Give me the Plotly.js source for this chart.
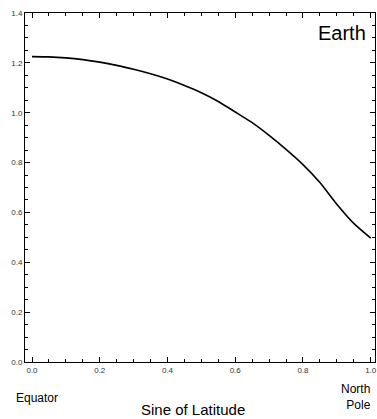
<!DOCTYPE html>
<html>
<head>
<meta charset="utf-8">
<script src="https://cdn.plot.ly/plotly-3.0.1.min.js"></script>
<style>
html,body{margin:0;padding:0;background:#fff;}
#chart{width:377px;height:419px;}
</style>
</head>
<body>
<div id="chart"></div>
<script>
// Sine of latitude (x) and plotted quantity (y)
const sineLatitude = [0, 0.05, 0.1, 0.15, 0.2, 0.25, 0.3, 0.35, 0.4, 0.45, 0.5, 0.55, 0.6, 0.65, 0.7, 0.75, 0.8, 0.85, 0.9, 0.95, 1.0];
const values = [1.225, 1.224, 1.220, 1.213, 1.203, 1.190, 1.174, 1.156, 1.135, 1.109, 1.080, 1.045, 1.003, 0.960, 0.909, 0.853, 0.792, 0.720, 0.633, 0.556, 0.497];
const xTickVals = [0, 0.2, 0.4, 0.6, 0.8, 1.0];
const xTickText = ["0.0", "0.2", "0.4", "0.6", "0.8", "1.0"];
const yTickVals = [0, 0.2, 0.4, 0.6, 0.8, 1.0, 1.2, 1.4];
const yTickText = ["0.0", "0.2", "0.4", "0.6", "0.8", "1.0", "1.2", "1.4"];

const font = "Liberation Sans, Arial, sans-serif";

const trace = {
  x: sineLatitude,
  y: values,
  type: 'scatter',
  mode: 'lines',
  line: {color: '#000', width: 1.6, shape: 'spline', smoothing: 0.6},
  hoverinfo: 'skip'
};

const axisCommon = {
  showgrid: false,
  zeroline: false,
  showline: true,
  linecolor: '#000',
  linewidth: 1,
  mirror: 'ticks',
  ticks: 'inside',
  ticklen: 5,
  tickwidth: 1,
  tickcolor: '#000',
  tickfont: {family: font, size: 8, color: '#333'},
  minor: {dtick: 0.05, ticks: 'inside', ticklen: 3, tickwidth: 1, tickcolor: '#000', showgrid: false}
};

const layout = {
  width: 377,
  height: 419,
  margin: {l: 25, r: 2, t: 13, b: 57},
  paper_bgcolor: '#fff',
  plot_bgcolor: '#fff',
  showlegend: false,
  xaxis: Object.assign({}, axisCommon, {
    range: [-0.0207, 1.0127],
    tickmode: 'array', tickvals: xTickVals, ticktext: xTickText,
    minor: Object.assign({}, axisCommon.minor, {tick0: 0})
  }),
  yaxis: Object.assign({}, axisCommon, {
    range: [0, 1.4],
    tickmode: 'array', tickvals: yTickVals, ticktext: yTickText,
    minor: Object.assign({}, axisCommon.minor, {tick0: 0})
  }),
  annotations: [
    {text: 'Earth', xref: 'paper', yref: 'paper', x: 0.98, y: 0.943, xanchor: 'right', yanchor: 'middle', showarrow: false, font: {family: font, size: 20, color: '#000'}},
    {text: 'Equator', xref: 'paper', yref: 'paper', x: -0.0314, y: -0.103, xanchor: 'left', yanchor: 'middle', showarrow: false, font: {family: font, size: 12, color: '#000'}},
    {text: 'North<br>Pole', xref: 'paper', yref: 'paper', x: 0.994, y: -0.099, xanchor: 'right', yanchor: 'middle', align: 'right', showarrow: false, font: {family: font, size: 12, color: '#000'}},
    {text: 'Sine of Latitude', xref: 'paper', yref: 'paper', x: 0.48, y: -0.1375, xanchor: 'center', yanchor: 'middle', showarrow: false, font: {family: font, size: 15, color: '#000'}}
  ]
};

Plotly.newPlot('chart', [trace], layout, {displayModeBar: false, staticPlot: true});
</script>
</body>
</html>
